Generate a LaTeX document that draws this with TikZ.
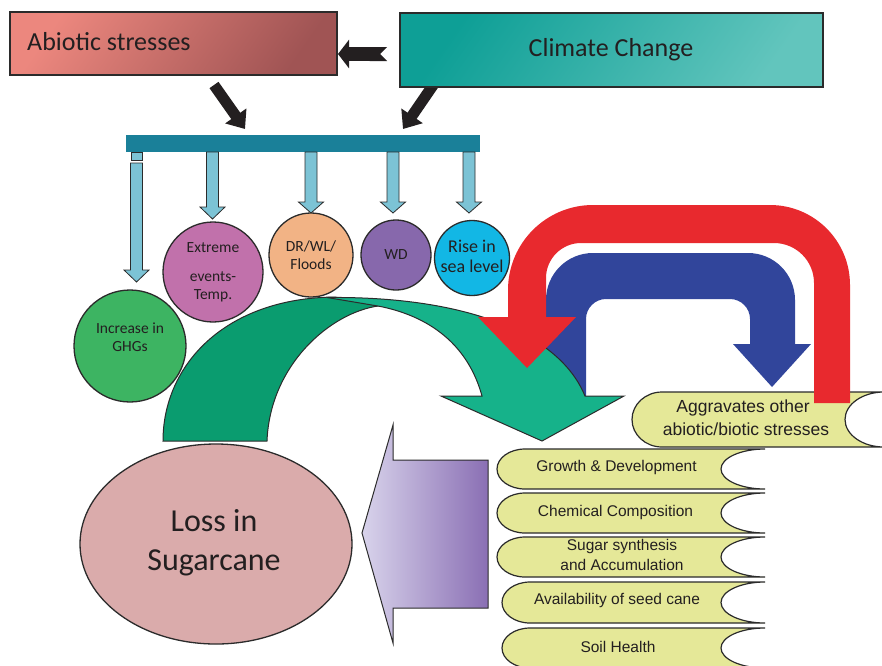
\documentclass[tikz,border=0pt]{standalone}
\usepackage{fontspec}
\setmainfont{Carlito}
\newfontfamily\arialf{Liberation Sans}
\usetikzlibrary{arrows.meta,shapes.geometric}
\definecolor{txt}{HTML}{231F20}
\definecolor{blackc}{HTML}{231F20}
\definecolor{abA}{HTML}{EC877E}
\definecolor{abB}{HTML}{A05454}
\definecolor{ccA}{HTML}{0E9F96}
\definecolor{ccB}{HTML}{62C5BD}
\definecolor{barc}{HTML}{1A8099}
\definecolor{lblue}{HTML}{7CC3D5}
\definecolor{ghg}{HTML}{3DB462}
\definecolor{ext}{HTML}{C171AB}
\definecolor{drw}{HTML}{F2B385}
\definecolor{wdc}{HTML}{8768AC}
\definecolor{sea}{HTML}{12B7E5}
\definecolor{gdark}{HTML}{0A9C6F}
\definecolor{glight}{HTML}{16B28A}
\definecolor{redc}{HTML}{E8292E}
\definecolor{bluec}{HTML}{31459B}
\definecolor{scrollc}{HTML}{E5E898}
\definecolor{lossc}{HTML}{DAABAB}
\definecolor{puA}{HTML}{D8D3EB}
\definecolor{puB}{HTML}{8A6FB4}
\definecolor{edge}{HTML}{2B2B2B}
% L T R B dl dr
\newcommand{\scrollpath}[6]{%
 \path[scrollst] ({#1+#5},#2) -- (#3,#2)
 .. controls ({#3-0.552*#6},#2) and ({#3-#6},{(#2+#4)/2-0.276*(#4-#2)}) .. ({#3-#6},{(#2+#4)/2})
 .. controls ({#3-#6},{(#2+#4)/2+0.276*(#4-#2)}) and ({#3-0.552*#6},#4) .. (#3,#4)
 -- ({#1+#5},#4)
 .. controls ({#1+0.448*#5},#4) and (#1,{(#2+#4)/2+0.276*(#4-#2)}) .. (#1,{(#2+#4)/2})
 .. controls (#1,{(#2+#4)/2-0.276*(#4-#2)}) and ({#1+0.448*#5},#2) .. ({#1+#5},#2) -- cycle;}
% x top headstart tip
\newcommand{\lbarrow}[4]{%
 \path[lb] ({#1-6},#2) -- ({#1-6},#3) -- ({#1-12.5},#3) -- (#1,#4) -- ({#1+12.5},#3) -- ({#1+6},#3) -- ({#1+6},#2) -- cycle;}
\begin{document}
\begin{tikzpicture}[x=1pt,y=-1pt,
 bx/.style={draw=edge, line width=1.3pt, inner sep=0},
 circ/.style={circle, draw=edge, line width=1.3pt, inner sep=0},
 ctext/.style={font=\fontsize{15.5}{18.5}\selectfont, text=txt, align=center, inner sep=0},
 stext/.style={font=\arialf\fontsize{15.5}{18.5}\selectfont, text=txt, align=center, inner sep=0},
 lb/.style={fill=lblue, draw=edge, line width=0.8pt},
 scrollst/.style={fill=scrollc, draw=edge, line width=1.2pt},
 blk/.style={draw=blackc, line width=11pt, -{Triangle[width=25pt,length=16pt]}},
]
\useasboundingbox (0,0) rectangle (882,665);
\fill[white] (0,0) rectangle (882,665);

% black arrows
\coordinate (a1s) at (214,85); \coordinate (a1e) at (245,129);
\coordinate (a2s) at (438,78); \coordinate (a2e) at (403,129);
\coordinate (a3s) at (387,54); \coordinate (a3e) at (338,54);
\draw[blk] (a1s) -- (a1e);
\draw[blk] (a2s) -- (a2e);
\draw[draw=blackc, line width=14pt, {Triangle Cap[reversed]}-{Triangle[width=28pt,length=11pt]}] (a3s) -- (a3e);

% boxes
\node[bx, minimum width=327pt, minimum height=63pt, top color=abA, bottom color=abB, shading angle=55] (abiotic) at (173.5,43.5) {};
\node[anchor=west, inner sep=0, font=\fontsize{26}{30}\selectfont, text=txt] (abt) at (27,42) {Abiotic stresses};
\node[bx, minimum width=423pt, minimum height=74pt, top color=ccA, bottom color=ccB, shading angle=55] (climate) at (611.5,50) {};
\node[inner sep=0, font=\fontsize{26}{30}\selectfont, text=txt] (cct) at (611,50) {Climate Change};

% bar
\node[fill=barc, minimum width=354pt, minimum height=17pt, inner sep=0] (bar) at (303,143.5) {};

% light blue arrows
\path[lb] (131,152) rectangle (142,160);
\lbarrow{136.5}{163}{270}{282}
\lbarrow{212.5}{152}{207}{219}
\lbarrow{311}{152}{202}{213}
\lbarrow{393}{152}{202}{213}
\lbarrow{469}{152}{202}{213}

% circles
\node[circ, fill=ghg, minimum size=112pt] (ghgc) at (130,346) {};
\node[circ, fill=ext, minimum size=100pt] (extc) at (213,272) {};
\node[circ, fill=drw, minimum size=84pt] (drc) at (311,255) {};
\node[circ, fill=wdc, minimum size=70pt] (wdcn) at (396,255) {};
\node[circ, fill=sea, minimum size=75pt] (seac) at (472,258) {};
\node[ctext] (ghgt) at (130,337) {Increase in\\GHGs};
\node[ctext] (ext1) at (213,248) {Extreme};
\node[ctext] (ext2) at (213,277) {events-};
\node[ctext] (ext3) at (213,296) {Temp.};
\node[ctext] (drt) at (311,255) {DR/WL/\\Floods};
\node[ctext] (wdt) at (396,255) {WD};
\node[ctext, font=\fontsize{18}{20}\selectfont] (seat) at (472,256) {Rise in\\sea level};

% blue U arrow
\fill[bluec] (546,396) -- (546,300) .. controls (546,274) and (567,253) .. (593,253) -- (748,253)
 .. controls (774,253) and (795,274) .. (795,300) -- (795,344) -- (811,344) -- (772,387) -- (733,344) -- (750,344)
 -- (750,319) .. controls (750,308) and (741,299) .. (730,299) -- (606,299)
 .. controls (595,299) and (586,308) .. (586,319) -- (586,396) -- cycle;

% green curved arrow
\path[fill=gdark, draw=edge, line width=1pt] (163,441) .. controls (163,365) and (225,298) .. (335,297)
 -- (378,306) .. controls (330,313) and (270,365) .. (267,441) -- cycle;
\path[fill=glight, draw=edge, line width=1pt] (327,297.5) .. controls (470,296) and (560,335) .. (585,396)
 -- (624,396) -- (542,441) -- (441,396) -- (482,396) .. controls (468,345) and (430,316) .. (378,306) -- cycle;

% scrolls
\scrollpath{632}{392}{884}{447}{30}{39}
\scrollpath{497}{449}{765}{489}{28}{44}
\scrollpath{497}{493}{765}{533}{28}{44}
\scrollpath{497}{537}{765}{577}{28}{44}
\scrollpath{502}{582}{765}{623}{28}{44}
\scrollpath{502}{628}{765}{668}{28}{44}

% red U arrow
\fill[redc] (850,403) -- (850,285) .. controls (850,240.8) and (814.2,205) .. (770,205) -- (593,205)
 .. controls (546.1,205) and (508,243.1) .. (508,290) -- (508,317) -- (478,317) -- (527,368) -- (576,317) -- (546,317)
 -- (546,278) .. controls (546,258.7) and (561.7,243) .. (581,243) -- (774,243)
 .. controls (796.1,243) and (814,260.9) .. (814,283) -- (814,403) -- cycle;

% scroll texts
\node[stext, font=\arialf\fontsize{17.5}{21}\selectfont] (agg1) at (743,408) {Aggravates other};
\node[stext, font=\arialf\fontsize{17.5}{21}\selectfont] (agg2) at (746,429) {abiotic/biotic stresses};
\node[stext] (s1) at (616.5,467) {Growth \& Development};
\node[stext] (s2) at (615.5,512) {Chemical Composition};
\node[stext] (s3a) at (622,546) {Sugar synthesis};
\node[stext] (s3b) at (622,564.5) {and Accumulation};
\node[stext] (s4) at (617,600) {Availability of seed cane};
\node[stext] (s5) at (618,647) {Soil Health};

% purple arrow
\path[draw=edge, line width=1pt, left color=puA, right color=puB] (362,533) -- (393,425) -- (393,460) -- (488,460)
 -- (488,608) -- (393,608) -- (393,643) -- cycle;

% loss ellipse
\node[ellipse, draw=edge, line width=1.3pt, fill=lossc, minimum width=272pt, minimum height=200pt, inner sep=0] (loss) at (216,544) {};
\node[inner sep=0, align=center, font=\fontsize{32}{39}\selectfont, text=txt] (losst) at (214,543) {Loss in\\Sugarcane};
\end{tikzpicture}
\end{document}
